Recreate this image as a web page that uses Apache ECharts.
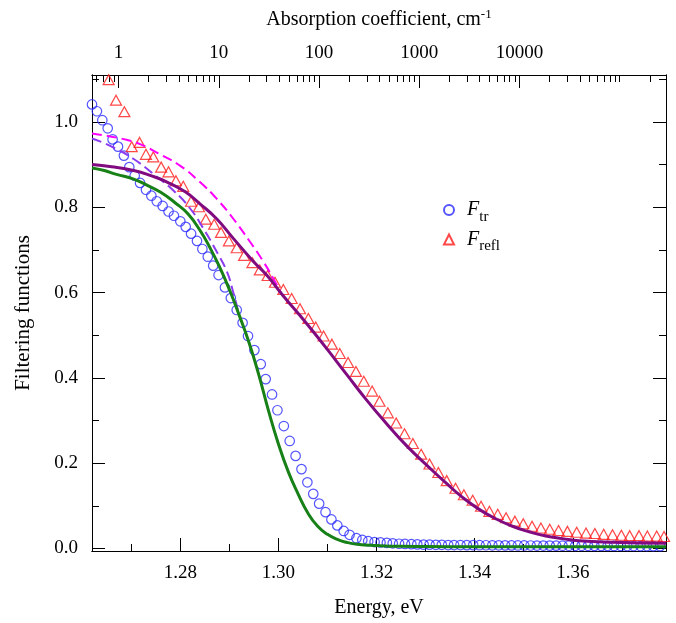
<!DOCTYPE html>
<html><head><meta charset="utf-8">
<script src="https://cdn.jsdelivr.net/npm/echarts@6/dist/echarts.min.js"></script>
<style>html,body{margin:0;padding:0;background:#fff}#c{width:676px;height:623px}</style>
</head><body><div id="c"></div>
<script>
// ---- data ----
const trE = [1.2620,1.2630,1.2641,1.2652,1.2662,1.2673,1.2685,1.2696,1.2707,1.2718,1.2730,1.2741,1.2752,1.2764,1.2776,1.2787,1.2800,1.2811,1.2822,1.2834,1.2845,1.2856,1.2867,1.2878,1.2891,1.2903,1.2915,1.2927,1.2938,1.2951,1.2964,1.2974,1.2987,1.2998,1.3011,1.3023,1.3035,1.3047,1.3059,1.3071,1.3083,1.3096,1.3108,1.3120,1.3133,1.3145,1.3159,1.3171,
  1.3183,1.3196,1.3208,1.3221,1.3233,1.3246,1.3258,1.3271,1.3283,1.3296,1.3308,1.3321,1.3333,1.3346,1.3358,1.3371,1.3384,1.3397,1.3410,1.3423,1.3436,1.3449,1.3462,1.3475,1.3488,1.3501,1.3514,1.3527,1.3540,1.3553,1.3566,1.3579,1.3592,1.3605,1.3618,1.3631,1.3644,1.3658,1.3671,1.3684,1.3698,1.3711,1.3724,1.3738,1.3751,1.3764,1.3778];
const trV = [1.041,1.025,1.004,0.985,0.959,0.942,0.921,0.894,0.874,0.857,0.841,0.827,0.814,0.803,0.790,0.780,0.767,0.754,0.738,0.721,0.702,0.684,0.663,0.641,0.612,0.587,0.559,0.529,0.498,0.465,0.432,0.397,0.361,0.324,0.287,0.252,0.217,0.186,0.155,0.128,0.105,0.085,0.068,0.054,0.041,0.032,0.024,0.020,
  0.017,0.015,0.014,0.013,0.012,0.011,0.0105,0.010,0.0095,0.009,0.009,0.0085,0.0085,0.008,0.008,0.008,0.0078,0.0077,0.0076,0.0075,0.0074,0.0073,0.0072,0.0071,0.007,0.007,0.0069,0.0068,0.0067,0.0066,0.0065,0.0064,0.0063,0.0062,0.0062,0.0061,0.006,0.006,0.0059,0.0058,0.0058,0.0057,0.0057,0.0056,0.0056,0.0055,0.0055];
const reflE = [1.2654,1.2669,1.2686,1.2701,1.2717,1.2730,1.2745,1.2761,1.2776,1.2791,1.2806,1.2822,1.2838,1.2852,1.2869,1.2883,1.2899,1.2915,1.2930,1.2947,1.2962,1.2978,1.2993,1.3010,1.3027,1.3044,1.3061,1.3076,1.3092,1.3109,1.3125,1.3142,1.3158,1.3174,1.3191,1.3206,1.3223,1.3240,1.3257,1.3274,1.3291,1.3308,1.3326,1.3343,1.3361,1.3378,1.3396,1.3413,1.3430,1.3447,1.3464,1.3482,1.3499,1.3517,1.3535,1.3553,1.3571,1.3589,1.3608,1.3627,1.3645,1.3663,1.3681,1.3699,1.3716,1.3735,1.3752,1.3771,1.3786];
const reflV = [1.099,1.051,1.024,0.942,0.952,0.924,0.918,0.894,0.883,0.862,0.849,0.814,0.801,0.772,0.760,0.741,0.721,0.705,0.687,0.670,0.653,0.640,0.624,0.607,0.586,0.562,0.539,0.519,0.498,0.479,0.457,0.436,0.415,0.392,0.369,0.345,0.318,0.294,0.269,0.246,0.221,0.198,0.178,0.159,0.141,0.126,0.113,0.099,0.087,0.080,0.072,0.064,0.058,0.052,0.048,0.045,0.042,0.040,0.038,0.036,0.035,0.033,0.032,0.031,0.030,0.030,0.029,0.029,0.028];
const fitTrE = [1.2620,1.2645,1.2670,1.2705,1.2730,1.2760,1.2790,1.2815,1.2840,1.2860,1.2880,1.2900,1.2920,1.2940,1.2960,1.2980,1.3000,1.3020,1.3040,1.3060,1.3080,1.3100,1.3120,1.3140,1.3160,1.3200,1.3250,1.3300,1.3400,1.3500,1.3790];
const fitTrV = [0.892,0.886,0.877,0.866,0.853,0.835,0.810,0.785,0.746,0.706,0.660,0.607,0.547,0.483,0.407,0.322,0.245,0.180,0.128,0.083,0.052,0.033,0.021,0.014,0.010,0.007,0.005,0.0045,0.004,0.004,0.004];
const fitReflE = [1.2620,1.2660,1.2705,1.2740,1.2773,1.2810,1.2840,1.2874,1.2908,1.2949,1.2976,1.3010,1.3044,1.3057,1.3098,1.3139,1.3179,1.3220,1.3261,1.3308,1.3342,1.3376,1.3410,1.3444,1.3477,1.3511,1.3545,1.3579,1.3613,1.3681,1.3790];
const fitReflV = [0.900,0.895,0.886,0.874,0.859,0.836,0.808,0.773,0.727,0.673,0.641,0.592,0.546,0.528,0.469,0.408,0.349,0.293,0.241,0.189,0.153,0.119,0.091,0.069,0.052,0.039,0.029,0.023,0.018,0.0145,0.012];
const dashMagE = [1.2620,1.2657,1.2690,1.2718,1.2759,1.2800,1.2840,1.2874,1.2908,1.2942,1.2969,1.2990,1.3005];
const dashMagV = [0.973,0.966,0.958,0.948,0.924,0.897,0.859,0.820,0.773,0.719,0.673,0.632,0.600];
const dashVioE = [1.2620,1.2657,1.2705,1.2745,1.2786,1.2820,1.2847,1.2874,1.2895,1.2908,1.2918];
const dashVioV = [0.961,0.944,0.913,0.878,0.839,0.797,0.750,0.696,0.649,0.600,0.556];

const xMajorTicks = [1.28,1.30,1.32,1.34,1.36];
const xMinorTicks = [1.27,1.29,1.31,1.33,1.35,1.37];
const yMajorTicks = [0.0,0.2,0.4,0.6,0.8,1.0];
const yMinorTicks = [0.1,0.3,0.5,0.7,0.9,1.1];
const absMajorTicks = [1,10,100,1000,10000];
const absTickLabels = ['1','10','100','1000','10000'];
const absMinorTicks = [0.6,0.7,0.8,0.9,2,3,4,5,6,7,8,9,20,30,40,50,60,70,80,90,200,300,400,500,600,700,800,900,2000,3000,4000,5000,6000,7000,8000,9000,20000,30000,40000,50000,60000,70000,80000,90000,100000,200000];
const absRange = [0.543, 290000];
const energyRange = [1.262, 1.379];
const yRange = [-0.006, 1.11];

// ---- chart ----
const FONT = 'Liberation Serif';
const zip = (a, b) => a.map((v, i) => [v, b[i]]);
const lg = v => Math.log10(v);
const chart = echarts.init(document.getElementById('c'));
const axisLine = {show: true, onZero: false, lineStyle: {color: '#000', width: 1}};
const lbl = {color: '#000', fontFamily: FONT, fontSize: 19};
function tickAxis(base, ticks, len, labels) {
  return Object.assign({
    axisLine: axisLine,
    axisTick: {show: true, inside: true, length: len, customValues: ticks, lineStyle: {color: '#000', width: 1}},
    axisLabel: labels ? labels : {show: false},
    splitLine: {show: false}
  }, base);
}
const option = {
  animation: false,
  backgroundColor: '#fff',
  grid: {left: 92, right: 10, top: 75, bottom: 68, containLabel: false},
  legend: {
    orient: 'vertical', left: 438, top: 195, itemWidth: 10, itemHeight: 10, itemGap: 5,
    data: ['tr', 'refl'],
    formatter: n => '{f|F}{s|' + n + '}',
    textStyle: {rich: {
      f: {fontFamily: FONT, fontStyle: 'italic', fontSize: 20, color: '#000', padding: [0, 0, 0, 8]},
      s: {fontFamily: FONT, fontSize: 15, color: '#000', padding: [14, 0, 0, 0]}
    }}
  },
  xAxis: [
    tickAxis({type: 'value', position: 'bottom', min: energyRange[0], max: energyRange[1],
      name: 'Energy, eV', nameLocation: 'middle', nameGap: 47,
      nameTextStyle: {fontFamily: FONT, fontSize: 20, color: '#000'}}, xMajorTicks, 13,
      Object.assign({customValues: xMajorTicks, margin: 13, formatter: v => v.toFixed(2)}, lbl)),
    tickAxis({type: 'value', position: 'bottom', min: energyRange[0], max: energyRange[1]}, xMinorTicks, 7),
    tickAxis({type: 'value', position: 'top', min: lg(absRange[0]), max: lg(absRange[1]),
      name: '{a|Absorption coefficient, cm}{b|-1}', nameLocation: 'middle', nameGap: 44,
      nameTextStyle: {rich: {a: {fontFamily: FONT, fontSize: 20, color: '#000'},
        b: {fontFamily: FONT, fontSize: 13, color: '#000', padding: [0, 0, 10, 0]}}}},
      absMajorTicks.map(lg), 13,
      Object.assign({customValues: absMajorTicks.map(lg), margin: 12,
        formatter: v => absTickLabels[Math.round(v)]}, lbl)),
    tickAxis({type: 'value', position: 'top', min: lg(absRange[0]), max: lg(absRange[1])}, absMinorTicks.map(lg), 7)
  ],
  yAxis: [
    tickAxis({type: 'value', position: 'left', min: yRange[0], max: yRange[1],
      name: 'Filtering functions', nameLocation: 'middle', nameGap: 58, nameRotate: 90,
      nameTextStyle: {fontFamily: FONT, fontSize: 21, color: '#000'}}, yMajorTicks, 13,
      Object.assign({customValues: yMajorTicks, margin: 14, formatter: v => v.toFixed(1)}, lbl)),
    tickAxis({type: 'value', position: 'left', min: yRange[0], max: yRange[1]}, yMinorTicks, 7),
    tickAxis({type: 'value', position: 'right', min: yRange[0], max: yRange[1]}, yMajorTicks, 13),
    tickAxis({type: 'value', position: 'right', min: yRange[0], max: yRange[1]}, yMinorTicks, 7)
  ],
  series: [
    {name: 'tr', type: 'scatter', data: zip(trE, trV), symbol: 'circle', symbolSize: 9.5,
      itemStyle: {color: 'rgba(0,0,0,0)', borderColor: '#2b2bff', borderWidth: 1.2}, z: 3},
    {name: 'refl', type: 'scatter', data: zip(reflE, reflV), symbol: 'triangle', symbolSize: [11, 10],
      itemStyle: {color: 'rgba(0,0,0,0)', borderColor: '#ff1a1a', borderWidth: 1.2}, z: 3},
    {name: 'dashMag', type: 'line', data: zip(dashMagE, dashMagV), smooth: true, showSymbol: false,
      lineStyle: {color: '#ff00ff', width: 2, type: [10, 5]}, z: 4},
    {name: 'dashVio', type: 'line', data: zip(dashVioE, dashVioV), smooth: true, showSymbol: false,
      lineStyle: {color: '#8c3cf0', width: 2, type: [10, 5]}, z: 4},
    {name: 'fitRefl', type: 'line', data: zip(fitReflE, fitReflV), smooth: true, showSymbol: false,
      lineStyle: {color: '#800a80', width: 3}, z: 5},
    {name: 'fitTr', type: 'line', data: zip(fitTrE, fitTrV), smooth: true, showSymbol: false,
      lineStyle: {color: '#178017', width: 3}, z: 5}
  ]
};
chart.setOption(option);
</script></body></html>
